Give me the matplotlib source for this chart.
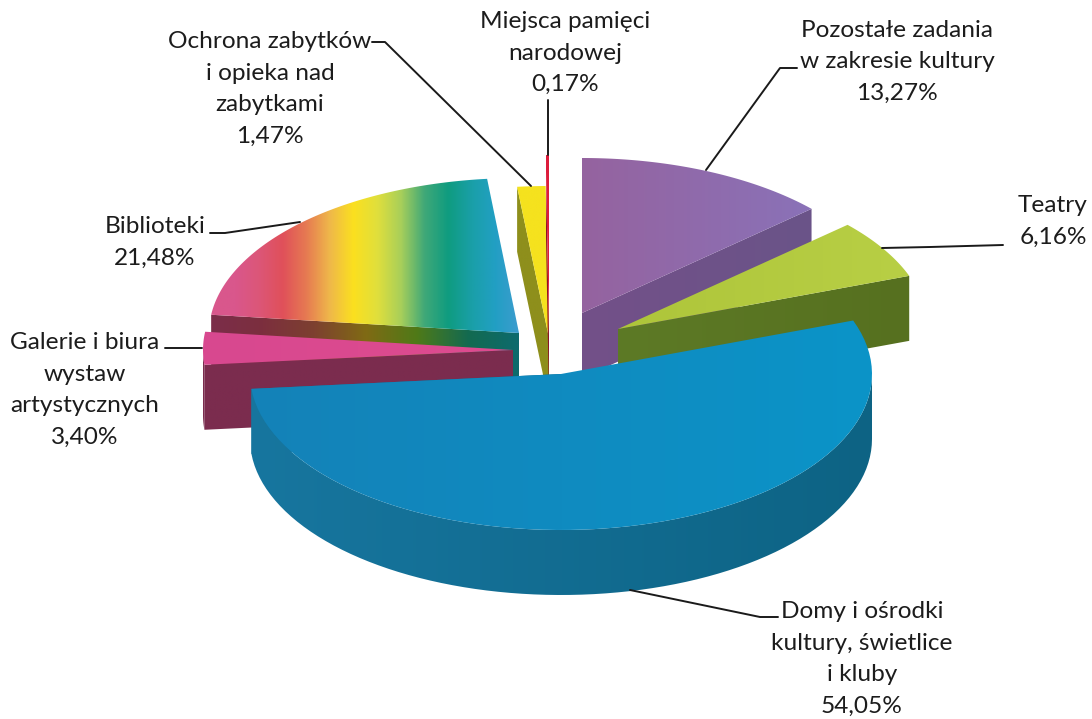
"""Wydatki na kulture - wykres kolowy 3D z wysunietymi wycinkami"""
import numpy as np
import matplotlib
matplotlib.use("Agg")
import matplotlib.pyplot as plt
from matplotlib.colors import LinearSegmentedColormap
from matplotlib.patches import Polygon

plt.rcParams["font.family"] = ["Lato", "DejaVu Sans"]

# clockwise from twelve o'clock
names = ["Pozostałe zadania\nw zakresie kultury", "Teatry",
         "Domy i ośrodki\nkultury, świetlice\ni kluby",
         "Galerie i biura\nwystaw\nartystycznych", "Biblioteki",
         "Ochrona zabytków\ni opieka nad\nzabytkami",
         "Miejsca pamięci\nnarodowej"]
values = [13.27, 6.16, 54.05, 3.40, 21.48, 1.47, 0.17]

# slice apex in pixels (exploded pie)
apex_x = [582, 618, 561, 513, 519, 549, 549]
apex_y = [313, 329, 374, 350, 333, 338, 335]
radius_y = [155, 155, 156, 155, 155, 152, 180]
radius_x = [310, 310, 311, 310, 310, 310, 310]
depth = 65

top_colors = [["#95639f", "#8a72b8"], ["#aec53a", "#b8cf45"], ["#1482b8", "#0b94c8"],
              ["#d8488f", "#de4c8f"],
              ["#d9578c", "#d9578c", "#dc5678", "#e0505a", "#e67a52", "#efb84a",
               "#fbe01f", "#e0df3c", "#a8cf5a", "#3fa878", "#0f9c80", "#1a9fa8",
               "#229fc4", "#3d9ccf"],
              ["#f5e21e", "#f5e21e"], ["#dd1c3c", "#dd1c3c"]]
side_colors = [["#735089", "#6a5488"], ["#5d7a26", "#56701f"], ["#17769f", "#0d6384"],
               ["#7b2c4e", "#7b2c4e"],
               ["#7b2d4a", "#7c2f3e", "#7d4030", "#806a14", "#4f7a18", "#136a50",
                "#0d6a6e"],
               ["#8e8f1c", "#8e8f1c"], ["#8a1428", "#8a1428"]]
draw_order = [4, 3, 5, 6, 0, 1, 2]

label_x = [897, 1088, 862, 85, 155, 270, 565]
label_y = [62, 221, 659, 390, 242, 89, 53]
label_ha = ["center", "right", "center", "center", "center", "center", "center"]

leaders = [[(797, 68), (780, 68), (706, 170)],
           [(1003, 245), (930, 247), (882, 248)],
           [(778, 617), (760, 617), (630, 590)],
           [(165, 348), (202, 348)],
           [(210, 233), (225, 233), (300, 222)],
           [(372, 42), (385, 42), (531, 186)],
           [(548, 100), (548, 155)]]

edges = np.radians(np.concatenate([[0], np.cumsum(values)]) * 3.6)


def rim(i, t0, t1, n=80):
    t = np.linspace(t0, t1, n)
    return np.column_stack([apex_x[i] + radius_x[i] * np.sin(t),
                            apex_y[i] - radius_y[i] * np.cos(t)])


def gradient_fill(ax, pts, colors, zorder):
    cmap = LinearSegmentedColormap.from_list("g", colors)
    x0, x1 = pts[:, 0].min(), pts[:, 0].max()
    y0, y1 = pts[:, 1].min(), pts[:, 1].max()
    im = ax.imshow(np.linspace(0, 1, 256)[None, :], cmap=cmap, aspect="auto",
                   extent=[x0, x1 + 1, y1, y0], zorder=zorder)
    clip = Polygon(pts, closed=True, transform=ax.transData)
    im.set_clip_path(clip)


fig = plt.figure(figsize=(10.92, 7.19), dpi=100)
ax = fig.add_axes([0, 0, 1, 1])

z = 1
for i in draw_order:
    t0, t1 = edges[i], edges[i + 1]
    apex = np.array([apex_x[i], apex_y[i]], dtype=float)
    down = np.array([0, depth])
    mid = (t0 + t1) / 2

    # radial wall facing the viewer
    wall_t = t1 if mid < np.pi else t0
    corner = rim(i, wall_t, wall_t, 1)[0]
    wall = np.array([apex, corner, corner + down, apex + down])
    gradient_fill(ax, wall, side_colors[i], z)
    z += 1

    # outer wall, front half only
    a, b = max(t0, np.pi / 2), min(t1, 3 * np.pi / 2)
    if b > a:
        arc = rim(i, a, b)
        outer = np.vstack([arc, arc[::-1] + down])
        gradient_fill(ax, outer, side_colors[i], z)
        z += 1

    top = np.vstack([apex, rim(i, t0, t1)])
    gradient_fill(ax, top, top_colors[i], z)
    z += 1

for pts in leaders:
    xs, ys = zip(*pts)
    ax.plot(xs, ys, color="#1a1a1a", lw=1.4, solid_capstyle="round", zorder=z)

for i, name in enumerate(names):
    val = f"{values[i]:.2f}".replace(".", ",")
    ax.text(label_x[i], label_y[i], f"{name}\n{val}%", ha=label_ha[i], va="center",
            multialignment="center", fontsize=17.6, linespacing=1.63,
            color="#1c1c1c", zorder=z + 1)

ax.set_xlim(0, 1092)
ax.set_ylim(719, 0)
ax.axis("off")

fig.savefig("out.png", dpi=100, facecolor="white")
plt.close()
